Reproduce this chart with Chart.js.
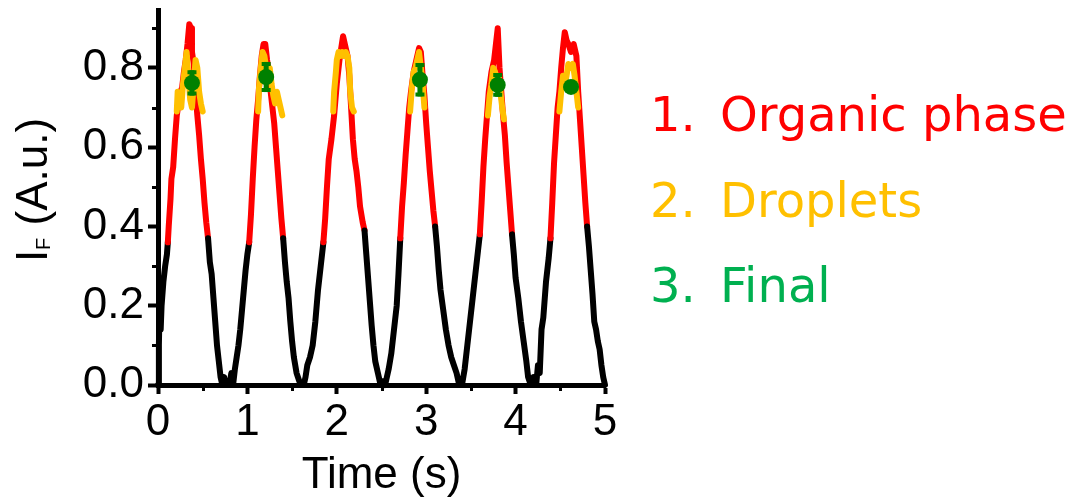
<!DOCTYPE html>
<html><head><meta charset="utf-8">
<script src="https://cdn.jsdelivr.net/npm/chart.js@4.4.1/dist/chart.umd.min.js"></script>
<style>
html,body{margin:0;padding:0;background:#fff;}
#wrap{position:relative;width:1070px;height:497px;overflow:hidden;background:#fff;}
canvas{position:absolute;left:0;top:0;}
.lg{position:absolute;left:650px;font-family:"DejaVu Sans",sans-serif;font-size:48px;line-height:48px;white-space:nowrap;height:48px;width:420px;}
.lg .n{position:absolute;left:0;top:0;}
.lg .t{position:absolute;left:70px;top:0;}
#ytitle{position:absolute;font-family:"Liberation Sans",Arial,sans-serif;font-size:44px;line-height:44px;width:220px;height:44px;text-align:center;left:-78px;top:168px;transform:rotate(-90deg);white-space:nowrap;color:#000;}
#ytitle sub{font-size:20px;vertical-align:baseline;position:relative;top:3px;}
</style></head>
<body>
<div id="wrap">
<canvas id="c" width="1070" height="497"></canvas>
<div id="ytitle">I<sub>F</sub> (A.u.)</div>
<div class="lg" style="top:90px;color:#FF0000"><span class="n">1.</span><span class="t">Organic phase</span></div>
<div class="lg" style="top:176px;color:#FFC000"><span class="n">2.</span><span class="t">Droplets</span></div>
<div class="lg" style="top:261px;color:#00B050"><span class="n">3.</span><span class="t">Final</span></div>
</div>
<script>
// ---- data ----
const signalTime = [
  0.00,0.01,0.02,0.03,0.04,0.06,0.08,0.10,0.11,0.12,0.14,0.15,0.17,0.19,0.21,0.23,0.25,0.27,0.29,0.31,0.33,0.35,0.37,0.38,0.40,0.42,0.44,0.46,0.48,0.50,0.52,0.54,0.56,0.58,0.60,0.62,0.64,0.66,0.68,0.70,
  0.72,0.74,0.76,0.78,0.80,0.82,0.84,0.86,0.88,0.90,0.92,0.94,0.96,0.98,1.00,1.02,1.04,1.06,1.08,1.10,1.12,1.14,1.16,1.18,1.20,1.22,1.24,1.26,1.28,1.30,1.32,1.34,1.36,1.38,1.40,1.42,1.44,1.46,1.48,1.50,1.52,1.55,1.58,
  1.60,1.63,1.65,1.67,1.70,1.73,1.76,1.79,1.82,1.85,1.87,1.89,1.91,1.94,1.97,2.00,2.03,2.05,2.07,2.09,2.12,2.14,2.16,2.18,2.20,2.22,2.24,2.26,2.29,2.31,2.33,2.35,2.37,2.39,2.41,2.43,2.46,
  2.49,2.51,2.54,2.56,2.58,2.61,2.64,2.67,2.69,2.71,2.73,2.75,2.77,2.79,2.81,2.83,2.86,2.89,2.92,2.94,2.96,2.98,3.00,3.02,3.04,3.06,3.08,3.10,3.12,3.14,3.16,3.19,3.22,3.25,3.28,3.31,3.34,
  3.37,3.40,3.43,3.46,3.49,3.52,3.55,3.58,3.60,3.62,3.64,3.66,3.68,3.70,3.73,3.76,3.78,3.80,3.82,3.84,3.86,3.88,3.90,3.92,3.94,3.96,3.98,4.00,4.03,4.06,4.09,4.12,4.14,
  4.17,4.20,4.23,4.25,4.27,4.29,4.31,4.34,4.37,4.39,4.41,4.43,4.45,4.47,4.49,4.51,4.53,4.55,4.57,4.59,4.62,4.65,4.68,4.70,4.72,4.74,4.76,4.78,4.80,4.82,4.84,4.86,4.88,4.90,4.92,4.94,4.96,4.98,5.00
];
const signalValue = [
  0.00,0.10,0.22,0.14,0.20,0.26,0.30,0.33,0.36,0.40,0.47,0.52,0.55,0.62,0.68,0.71,0.74,0.75,0.79,0.82,0.86,0.91,0.90,0.84,0.81,0.74,0.68,0.63,0.57,0.52,0.46,0.41,0.37,0.31,0.28,0.22,0.16,0.10,0.06,0.02,
  0.00,0.02,0.00,0.01,0.00,0.03,0.00,0.04,0.07,0.10,0.14,0.19,0.24,0.29,0.33,0.36,0.43,0.52,0.60,0.67,0.72,0.78,0.83,0.86,0.86,0.82,0.79,0.74,0.70,0.66,0.60,0.54,0.48,0.42,0.37,0.31,0.26,0.22,0.16,0.11,0.07,0.03,0.01,
  0.00,0.00,0.02,0.05,0.07,0.10,0.16,0.24,0.30,0.36,0.42,0.50,0.57,0.62,0.68,0.76,0.82,0.85,0.88,0.86,0.83,0.78,0.70,0.62,0.57,0.54,0.50,0.45,0.41,0.39,0.33,0.27,0.21,0.15,0.10,0.06,0.03,
  0.00,0.01,0.00,0.02,0.04,0.08,0.14,0.20,0.28,0.37,0.45,0.51,0.58,0.64,0.70,0.74,0.79,0.82,0.85,0.84,0.78,0.73,0.66,0.60,0.54,0.49,0.44,0.40,0.35,0.29,0.24,0.19,0.14,0.10,0.07,0.05,0.03,
  0.00,0.00,0.04,0.10,0.16,0.22,0.28,0.34,0.38,0.46,0.55,0.62,0.68,0.74,0.79,0.82,0.86,0.90,0.80,0.74,0.68,0.63,0.56,0.50,0.44,0.38,0.33,0.27,0.22,0.16,0.11,0.06,0.02,
  0.00,0.02,0.00,0.05,0.03,0.14,0.17,0.26,0.32,0.37,0.46,0.56,0.63,0.70,0.74,0.80,0.85,0.89,0.87,0.86,0.84,0.86,0.83,0.74,0.67,0.60,0.53,0.46,0.40,0.35,0.29,0.23,0.16,0.14,0.11,0.09,0.05,0.02,0.00
];
// droplet windows (null separates the windows)
const dropletTime = [
  0.21,0.22,0.24,0.26,0.28,0.30,0.32,0.34,0.36,0.38,0.40,0.42,0.44,0.46,0.48,0.50, 0.8,
  1.12,1.13,1.15,1.17,1.19,1.21,1.23,1.25,1.27,1.29,1.31,1.33,1.35,1.37,1.39, 1.7,
  1.96,1.97,1.99,2.00,2.02,2.04,2.06,2.08,2.10,2.12,2.14,2.15,2.17,2.19, 2.5,
  2.82,2.84,2.86,2.88,2.90,2.92,2.94,2.96,2.98, 3.4,
  3.69,3.71,3.73,3.75,3.77,3.79,3.81,3.83,3.85,3.87, 4.2,
  4.49,4.51,4.53,4.55,4.57,4.59,4.62,4.64,4.66,4.68,4.70
];
const dropletValue = [
  0.69,0.74,0.72,0.70,0.76,0.80,0.84,0.78,0.72,0.70,0.76,0.82,0.80,0.74,0.71,0.69, null,
  0.69,0.75,0.80,0.84,0.83,0.80,0.78,0.80,0.76,0.73,0.71,0.74,0.72,0.70,0.68, null,
  0.69,0.74,0.79,0.82,0.84,0.83,0.84,0.83,0.84,0.83,0.80,0.74,0.70,0.69, null,
  0.69,0.75,0.79,0.80,0.82,0.84,0.80,0.76,0.70, null,
  0.68,0.73,0.76,0.80,0.79,0.76,0.78,0.74,0.70,0.67, null,
  0.69,0.74,0.78,0.76,0.78,0.81,0.80,0.81,0.78,0.74,0.70
];
const finalTime  = [0.38, 1.21, 2.93, 3.80, 4.62];
const finalValue = [0.762, 0.777, 0.770, 0.757, 0.752];
const finalError = [0.032, 0.038, 0.042, 0.030, 0.010];
const yTickStep = 0.2, xTickStep = 1;
const yMinorTicks = [0.1, 0.3, 0.5, 0.7, 0.9];
const xMinorTicks = [0.5, 1.5, 2.5, 3.5, 4.5];
const yMax = 0.946, xMax = 5;

const RED = '#FF0000', BLACK = '#000000', ORANGE = '#FFC000', GREEN = '#008000';
const redThreshold = 0.36;

const n = Math.min(signalTime.length, signalValue.length);
const signalData = [];
for (let i = 0; i < n; i++) signalData.push({x: signalTime[i], y: signalValue[i]});
const dropletData = dropletTime.map((t, i) => ({x: t, y: dropletValue[i]}));
const finalData = finalTime.map((t, i) => ({x: t, y: finalValue[i]}));

const extras = {
  id: 'extras',
  beforeDatasetDraw(chart, args) {
    // error bars drawn right before the "Final" markers
    if (args.index !== 2) return;
    const {ctx, scales: {x, y}} = chart;
    ctx.save();
    ctx.strokeStyle = GREEN;
    ctx.lineCap = 'butt';
    finalTime.forEach((t, i) => {
      const px = x.getPixelForValue(t);
      const top = y.getPixelForValue(finalValue[i] + finalError[i]);
      const bot = y.getPixelForValue(finalValue[i] - finalError[i]);
      ctx.lineWidth = 5;
      ctx.beginPath(); ctx.moveTo(px, top); ctx.lineTo(px, bot); ctx.stroke();
      ctx.lineWidth = 4;
      ctx.beginPath();
      ctx.moveTo(px - 4.5, top + 2); ctx.lineTo(px + 4.5, top + 2);
      ctx.moveTo(px - 4.5, bot - 2); ctx.lineTo(px + 4.5, bot - 2);
      ctx.stroke();
    });
    ctx.restore();
  },
  afterDraw(chart) {
    const {ctx, scales: {x, y}, chartArea} = chart;
    ctx.save();
    ctx.strokeStyle = BLACK;
    ctx.lineWidth = 3;
    yMinorTicks.forEach(v => {
      const py = Math.round(y.getPixelForValue(v)) + 0.5;
      ctx.beginPath(); ctx.moveTo(chartArea.left - 6, py); ctx.lineTo(chartArea.left, py); ctx.stroke();
    });
    xMinorTicks.forEach(v => {
      const px = Math.round(x.getPixelForValue(v)) + 0.5;
      ctx.beginPath(); ctx.moveTo(px, chartArea.bottom); ctx.lineTo(px, chartArea.bottom + 6); ctx.stroke();
    });
    ctx.restore();
  }
};

const axisFont = {family: 'Liberation Sans', size: 44};
new Chart(document.getElementById('c'), {
  type: 'line',
  data: {
    datasets: [
      {
        label: 'Signal', data: signalData, borderColor: BLACK, borderWidth: 6,
        pointRadius: 0, tension: 0, clip: false, order: 3,
        borderJoinStyle: 'round', borderCapStyle: 'round',
        segment: {
          borderColor: c => (c.p0.parsed.y >= redThreshold && c.p1.parsed.y >= redThreshold) ? RED : BLACK
        }
      },
      {
        label: 'Droplets', data: dropletData, borderColor: ORANGE, borderWidth: 6,
        pointRadius: 0, tension: 0, spanGaps: false, clip: false, order: 2,
        borderJoinStyle: 'round', borderCapStyle: 'round'
      },
      {
        label: 'Final', data: finalData, showLine: false, pointRadius: 8, order: 1,
        pointBackgroundColor: GREEN, pointBorderColor: GREEN, pointBorderWidth: 0, clip: false
      }
    ]
  },
  options: {
    responsive: false, animation: false, devicePixelRatio: 1,
    layout: {padding: {top: 10, right: 465, left: 0, bottom: 0}},
    plugins: {legend: {display: false}, tooltip: {enabled: false}},
    scales: {
      x: {
        type: 'linear', min: 0, max: xMax,
        ticks: {stepSize: xTickStep, font: axisFont, color: BLACK, padding: 2, maxRotation: 0, autoSkip: false,
                callback: v => String(v)},
        grid: {display: true, drawOnChartArea: false, drawTicks: true, tickLength: 9, tickWidth: 4, tickColor: BLACK},
        border: {display: true, width: 5, color: BLACK},
        title: {display: true, text: 'Time (s)', font: {family: 'Liberation Sans', size: 44, lineHeight: 0.95}, color: BLACK, padding: 0},
        afterFit: s => { s.height = 112; s.paddingLeft = 0; s.paddingRight = 0; }
      },
      y: {
        type: 'linear', min: 0, max: yMax,
        afterBuildTicks: s => { s.ticks = s.ticks.filter(t => Math.abs(t.value / yTickStep - Math.round(t.value / yTickStep)) < 1e-6); },
        ticks: {stepSize: yTickStep, font: axisFont, color: BLACK, padding: 4, autoSkip: false,
                callback: v => Number(v).toFixed(1)},
        grid: {display: true, drawOnChartArea: false, drawTicks: true, tickLength: 10, tickWidth: 4, tickColor: BLACK},
        border: {display: true, width: 5, color: BLACK},
        afterFit: s => { s.width = 158; s.paddingTop = 0; s.paddingBottom = 0; }
      }
    }
  },
  plugins: [extras]
});
</script>
</body></html>
